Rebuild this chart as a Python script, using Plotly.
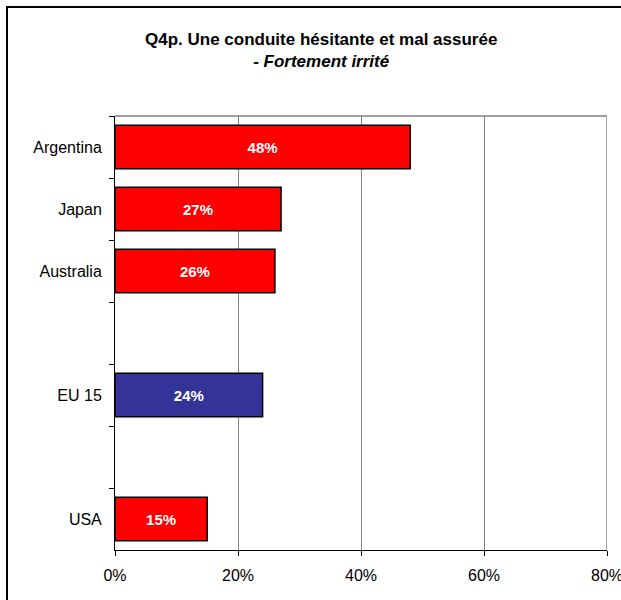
import plotly.graph_objects as go

categories = ["Argentina", "Japan", "Australia", " ", "EU 15", "  ", "USA"]
values = [48, 27, 26, None, 24, None, 15]
colors = ["#FF0000", "#FF0000", "#FF0000", "#FF0000", "#333399", "#FF0000", "#FF0000"]
x_ticks = [0, 20, 40, 60, 80]
x_tick_labels = ["0%", "20%", "40%", "60%", "80%"]

W, H = 621, 600
L, R, T, B = 115, 14, 116, 50
pw, ph = W - L - R, H - T - B

def px_x(p):
    return (p - L) / pw

def px_y(p):
    return (H - B - p) / ph

fig = go.Figure()
fig.add_trace(go.Bar(
    y=categories, x=values, orientation="h",
    marker=dict(color=colors, line=dict(color="black", width=1.5)),
    text=[f"{v}%" if v is not None else "" for v in values],
    textposition="inside", insidetextanchor="middle",
    textfont=dict(color="white", size=15, family="Liberation Sans", weight="bold"),
    width=0.7, cliponaxis=False,
))

fig.update_layout(
    width=W, height=H,
    margin=dict(l=L, r=R, t=T, b=B, autoexpand=False),
    paper_bgcolor="white", plot_bgcolor="white",
    showlegend=False,
    font=dict(family="Liberation Sans", color="black", size=16),
    xaxis=dict(range=[0, 80], tickvals=x_ticks, ticktext=x_tick_labels,
               showgrid=True, gridcolor="#808080", gridwidth=1,
               showline=True, linecolor="black", linewidth=1,
               ticks="outside", ticklen=5, tickcolor="black",
               zeroline=False, fixedrange=True, tickfont=dict(size=16),
               automargin=False, ticklabeloverflow="allow", ticklabelstandoff=6),
    yaxis=dict(autorange="reversed", type="category",
               showline=True, linecolor="black", linewidth=1,
               ticks="outside", ticklen=5, tickcolor="black",
               tickson="boundaries", showgrid=False, fixedrange=True,
               tickfont=dict(size=16), ticklabelstandoff=9, automargin=False),
    annotations=[
        dict(text="<b>Q4p. Une conduite hésitante et mal assurée</b><br><b><i>- Fortement irrité</i></b>",
             xref="paper", yref="paper", x=px_x(321), y=px_y(28), xanchor="center", yanchor="top",
             showarrow=False, font=dict(size=17, family="Liberation Sans"), align="center"),
    ],
    shapes=[
        dict(type="rect", xref="paper", yref="paper",
             x0=px_x(7), x1=px_x(640), y0=px_y(620), y1=px_y(7),
             line=dict(color="black", width=2), fillcolor="rgba(0,0,0,0)", layer="above"),
        dict(type="line", xref="paper", yref="paper", x0=0, x1=1, y0=1, y1=1,
             line=dict(color="#808080", width=1.5), layer="above"),
        dict(type="line", xref="x", yref="paper", x0=80, x1=80, y0=0, y1=1,
             line=dict(color="#808080", width=1.5), layer="below"),
    ],
)

fig.write_html("out.html", config={"displayModeBar": False},
               post_script="document.body.style.margin='0';document.body.style.overflow='hidden';")
